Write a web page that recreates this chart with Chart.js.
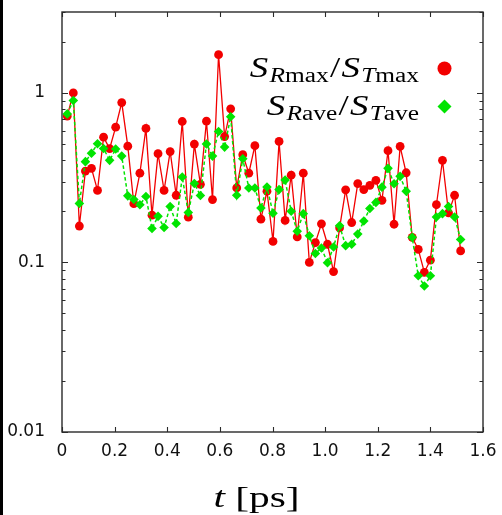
<!DOCTYPE html>
<html>
<head>
<meta charset="utf-8">
<script src="https://cdn.jsdelivr.net/npm/chart.js@4.4.1/dist/chart.umd.min.js"></script>
<style>
html,body{margin:0;padding:0;background:#fff;}
#wrap{width:502px;height:515px;position:relative;}
</style>
</head>
<body>
<div id="wrap"><canvas id="c" width="502" height="515"></canvas></div>
<script>
// time axis (ps)
const times = [0.020,0.043,0.066,0.089,0.112,0.135,0.158,0.181,0.204,0.227,
0.250,0.273,0.296,0.319,0.342,0.365,0.388,0.411,0.434,0.457,
0.480,0.503,0.526,0.549,0.572,0.595,0.618,0.641,0.664,0.687,
0.710,0.733,0.756,0.779,0.802,0.825,0.848,0.871,0.894,0.917,
0.940,0.963,0.986,1.009,1.032,1.055,1.078,1.101,1.124,1.147,
1.170,1.193,1.216,1.239,1.262,1.285,1.308,1.331,1.354,1.377,
1.400,1.423,1.446,1.469,1.492,1.515];

// S_Rmax / S_Tmax
const ratioMax = [0.73,1.0,0.164,0.346,0.359,0.266,0.548,0.469,0.628,0.877,
0.485,0.222,0.336,0.617,0.190,0.438,0.266,0.451,0.249,0.678,
0.185,0.499,0.289,0.681,0.235,1.68,0.553,0.805,0.275,0.432,
0.336,0.488,0.180,0.263,0.133,0.517,0.177,0.327,0.1415,0.336,
0.100,0.131,0.169,0.128,0.0883,0.160,0.268,0.172,0.292,0.269,
0.285,0.305,0.2325,0.456,0.168,0.483,0.338,0.1406,0.1194,0.0875,
0.1032,0.219,0.400,0.196,0.249,0.117];

// S_Rave / S_Tave
const ratioAve = [0.752,0.901,0.223,0.393,0.441,0.501,0.470,0.400,0.467,0.424,
0.247,0.235,0.219,0.245,0.1585,0.187,0.1607,0.214,0.1696,0.319,
0.197,0.292,0.248,0.500,0.424,0.592,0.479,0.723,0.249,0.409,
0.275,0.275,0.2095,0.2786,0.195,0.269,0.306,0.2004,0.1528,0.194,
0.1438,0.113,0.1217,0.0995,0.1234,0.1644,0.1256,0.128,0.147,0.1754,
0.208,0.226,0.278,0.359,0.291,0.322,0.2634,0.1406,0.0834,0.0726,
0.0834,0.1855,0.194,0.214,0.1855,0.1365];

const xTicks = [0,0.2,0.4,0.6,0.8,1,1.2,1.4,1.6];
const yMajor = [0.01,0.1,1];
const yMinor = [0.02,0.03,0.04,0.05,0.06,0.07,0.08,0.09,0.2,0.3,0.4,0.5,0.6,0.7,0.8,0.9,2,3];

const RED = '#f20000';
const GREEN = '#00e400';
const SERIF = '"Liberation Serif", "DejaVu Serif", serif';

function drawParts(ctx, parts, rightX, baseline, sx) {
  // parts: [text, size, italic, dy, extraGap]
  let w = 0;
  for (const p of parts) {
    ctx.font = (p[2] ? 'italic ' : '') + p[1] + 'px ' + SERIF;
    p.w = ctx.measureText(p[0]).width;
    w += p.w + (p[4] || 0);
  }
  ctx.save();
  ctx.translate(rightX - w * sx, baseline);
  ctx.scale(sx, 1);
  let x = 0;
  ctx.textBaseline = 'alphabetic';
  ctx.textAlign = 'left';
  for (const p of parts) {
    ctx.font = (p[2] ? 'italic ' : '') + p[1] + 'px ' + SERIF;
    ctx.fillText(p[0], x, p[3]);
    x += p.w + (p[4] || 0);
  }
  ctx.restore();
}

const framePlugin = {
  id: 'frame',
  beforeDraw(chart) {
    const ctx = chart.ctx;
    ctx.save();
    ctx.fillStyle = '#fff';
    ctx.fillRect(0, 0, chart.width, chart.height);
    ctx.fillStyle = '#000';
    ctx.fillRect(0, 0, 3, chart.height);
    ctx.restore();
  },
  afterDatasetsDraw(chart) {
    const ctx = chart.ctx;
    const a = chart.chartArea;
    const xs = chart.scales.x, ys = chart.scales.y;
    ctx.save();
    ctx.strokeStyle = '#2a2a2a';
    ctx.lineWidth = 1.4;
    ctx.strokeRect(a.left, a.top, a.right - a.left, a.bottom - a.top);
    ctx.lineWidth = 1.1;
    ctx.beginPath();
    for (const v of xTicks) {
      const px = Math.round(xs.getPixelForValue(v)) + 0.5;
      ctx.moveTo(px, a.bottom); ctx.lineTo(px, a.bottom - 5);
      ctx.moveTo(px, a.top); ctx.lineTo(px, a.top + 5);
    }
    for (const v of yMajor) {
      const py = Math.round(ys.getPixelForValue(v)) + 0.5;
      ctx.moveTo(a.left, py); ctx.lineTo(a.left + 6, py);
      ctx.moveTo(a.right, py); ctx.lineTo(a.right - 6, py);
    }
    for (const v of yMinor) {
      const py = Math.round(ys.getPixelForValue(v)) + 0.5;
      ctx.moveTo(a.left, py); ctx.lineTo(a.left + 3.5, py);
      ctx.moveTo(a.right, py); ctx.lineTo(a.right - 3.5, py);
    }
    ctx.stroke();

    // legend
    ctx.fillStyle = '#000';
    drawParts(ctx, [['S',29,true,0,1],['R',20,true,5,0],['max',20,false,5,1],['/',29,false,0,1],['S',29,true,0,1],['T',20,true,5,0],['max',20,false,5,0]], 419, 76.5, 1.27);
    drawParts(ctx, [['S',29,true,0,1],['R',20,true,5,0],['ave',20,false,5,1],['/',29,false,0,1],['S',29,true,0,1],['T',20,true,5,0],['ave',20,false,5,0]], 419, 115, 1.27);
    ctx.fillStyle = RED;
    ctx.beginPath(); ctx.arc(444.5, 68.5, 7, 0, Math.PI * 2); ctx.fill();
    ctx.fillStyle = GREEN;
    ctx.beginPath();
    ctx.moveTo(444.5, 99.5); ctx.lineTo(451.5, 106.5); ctx.lineTo(444.5, 113.5); ctx.lineTo(437.5, 106.5); ctx.closePath();
    ctx.fill();

    // axis title
    ctx.fillStyle = '#000';
    const cx = (a.left + a.right) / 2;
    ctx.font = 'italic 30px ' + SERIF;
    const w1 = ctx.measureText('t').width;
    ctx.font = '30px ' + SERIF;
    const w2 = ctx.measureText(' [ps]').width;
    const sx = 1.38;
    const tot = (w1 + w2) * sx;
    drawParts(ctx, [['t',30,true,0,0],[' [ps]',30,false,0,0]], cx - 16 + tot / 2, 507, sx);
    ctx.restore();
  }
};

new Chart(document.getElementById('c'), {
  type: 'line',
  data: {
    datasets: [
      {
        label: 'S_Rave/S_Tave',
        data: times.map((t, i) => ({x: t, y: ratioAve[i]})),
        borderColor: GREEN,
        backgroundColor: GREEN,
        borderWidth: 1.5,
        borderDash: [3.5, 2.5],
        pointStyle: 'rectRot',
        pointRadius: 4.8,
        pointBorderWidth: 0,
        tension: 0,
        fill: false
      },
      {
        label: 'S_Rmax/S_Tmax',
        data: times.map((t, i) => ({x: t, y: ratioMax[i]})),
        borderColor: RED,
        backgroundColor: RED,
        borderWidth: 1.3,
        pointStyle: 'circle',
        pointRadius: 4.4,
        pointBorderWidth: 0,
        tension: 0,
        fill: false
      }
    ]
  },
  options: {
    responsive: false,
    animation: false,
    devicePixelRatio: 1,
    layout: {padding: {top: 12, right: 19, left: 0, bottom: 0}},
    plugins: {legend: {display: false}, tooltip: {enabled: false}},
    scales: {
      x: {
        type: 'linear',
        min: 0, max: 1.6,
        grid: {display: false, drawTicks: false},
        border: {display: false},
        ticks: {
          stepSize: 0.2,
          padding: 9,
          color: '#111',
          font: {family: '"DejaVu Sans", sans-serif', size: 17},
          maxRotation: 0,
          autoSkip: false
        },
        afterFit(s) { s.height = 83; s.paddingLeft = 0; s.paddingRight = 0; }
      },
      y: {
        type: 'logarithmic',
        min: 0.01, max: 3,
        grid: {display: false, drawTicks: false},
        border: {display: false},
        ticks: {
          padding: 17,
          color: '#111',
          autoSkip: false,
          font: {family: '"DejaVu Sans", sans-serif', size: 17},
          callback(v) {
            if (yMajor.some(m => Math.abs(m - v) < 1e-9)) return String(v);
            return '';
          }
        },
        afterFit(s) { s.width = 62; s.paddingTop = 0; s.paddingBottom = 0; }
      }
    }
  },
  plugins: [framePlugin]
});
</script>
</body>
</html>
